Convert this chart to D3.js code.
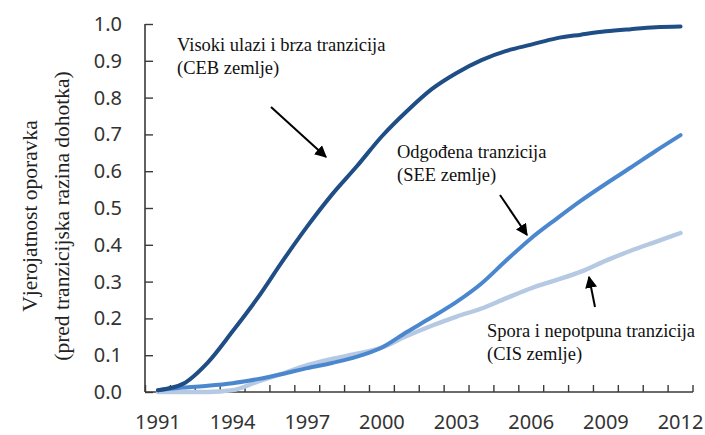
<!DOCTYPE html>
<html>
<head>
<meta charset="utf-8">
<script src="https://cdn.jsdelivr.net/npm/d3@7"></script>
<style>
  body { margin: 0; background: #fff; }
  svg { display: block; }
</style>
</head>
<body>
<div id="chart"></div>
<script>
// data
const years = d3.range(1991, 2013);
const yearLabels = [1991, 1994, 1997, 2000, 2003, 2006, 2009, 2012];
const yTicks = [0, 0.1, 0.2, 0.3, 0.4, 0.5, 0.6, 0.7, 0.8, 0.9, 1.0];

const ceb = [0.005, 0.022, 0.08, 0.165, 0.255, 0.355, 0.45, 0.537, 0.614, 0.695,
  0.763, 0.823, 0.867, 0.902, 0.927, 0.944, 0.961, 0.971, 0.98, 0.986, 0.991, 0.993];
const see = [0.005, 0.012, 0.017, 0.024, 0.035, 0.049, 0.065, 0.079, 0.096, 0.121,
  0.163, 0.203, 0.245, 0.295, 0.358, 0.418, 0.47, 0.52, 0.566, 0.61, 0.655, 0.698];
const cis = [0.0, 0.0, 0.0, 0.005, 0.028, 0.05, 0.073, 0.09, 0.104, 0.121,
  0.152, 0.18, 0.205, 0.227, 0.255, 0.282, 0.304, 0.327, 0.357, 0.384, 0.408, 0.432];

const series = [
  {name: "CIS", values: cis, color: "#b5c9e3", width: 4.4},
  {name: "SEE", values: see, color: "#4b87cf", width: 4},
  {name: "CEB", values: ceb, color: "#1f4d85", width: 4}
];

const notes = [
  {lines: ["Visoki ulazi i brza tranzicija", "(CEB zemlje)"], x: 177, y: 51},
  {lines: ["Odgođena tranzicija", "(SEE zemlje)"], x: 397, y: 158},
  {lines: ["Spora i nepotpuna tranzicija", "(CIS zemlje)"], x: 487, y: 337}
];
const arrows = [
  {from: [271, 107], to: [326, 157]},
  {from: [500, 195], to: [527, 235]},
  {from: [595, 307], to: [589, 277]}
];

const width = 705, height = 435;
const margin = {top: 24, right: 12, bottom: 43, left: 145};

const svg = d3.select("#chart").append("svg")
  .attr("width", width)
  .attr("height", height);

const x = d3.scaleBand()
  .domain(years)
  .range([margin.left + 0.5, 693]);

const y = d3.scaleLinear()
  .domain([0, 1])
  .range([height - margin.bottom, margin.top]);

const xc = d => x(d) + x.bandwidth() / 2;

// y axis, ticks pointing inward
const yAxis = svg.append("g")
  .attr("transform", `translate(${margin.left},0)`)
  .call(d3.axisRight(y).tickValues(yTicks).tickFormat(d3.format(".1f")).tickSizeOuter(0).tickSize(8));
yAxis.select(".domain").attr("stroke", "#3a3a3a").attr("stroke-width", 1.6)
  .attr("d", `M0,${y(1)}V${y(0)}`);
yAxis.selectAll(".tick line").attr("stroke", "#3a3a3a").attr("stroke-width", 1.4);
yAxis.selectAll(".tick text")
  .attr("x", -23)
  .attr("text-anchor", "end")
  .attr("fill", "#333")
  .style("font", "20px 'Noto Sans', sans-serif");

// x axis, ticks between years
const tickPos = years.map(d => x(d)).concat([x.range()[1]]);
const xg = svg.append("g");
xg.append("line")
  .attr("x1", margin.left).attr("x2", x.range()[1])
  .attr("y1", y(0)).attr("y2", y(0))
  .attr("stroke", "#3a3a3a").attr("stroke-width", 1.6);
xg.selectAll("line.tk").data(tickPos).join("line")
  .attr("class", "tk")
  .attr("x1", d => d).attr("x2", d => d)
  .attr("y1", y(0)).attr("y2", y(0) - 7)
  .attr("stroke", "#3a3a3a").attr("stroke-width", 1.4);
xg.selectAll("text").data(yearLabels).join("text")
  .attr("x", d => xc(d))
  .attr("y", 429)
  .attr("text-anchor", "middle")
  .attr("fill", "#333")
  .style("font", "20px 'Noto Sans', sans-serif")
  .text(d => d);

// axis title
const title = svg.append("text")
  .attr("transform", `translate(0,216) rotate(-90)`)
  .attr("text-anchor", "middle")
  .attr("fill", "#222")
  .style("font", "21.5px 'Liberation Serif', 'Times New Roman', serif");
title.append("tspan").attr("x", 0).attr("y", 37).text("Vjerojatnost oporavka");
title.append("tspan").attr("x", 0).attr("y", 69).text("(pred tranzicijska razina dohotka)");

// lines
const line = d3.line()
  .x((d, i) => xc(years[i]))
  .y(d => y(d))
  .curve(d3.curveMonotoneX);

svg.append("g").selectAll("path").data(series).join("path")
  .attr("fill", "none")
  .attr("stroke", d => d.color)
  .attr("stroke-width", d => d.width)
  .attr("stroke-linecap", "round")
  .attr("stroke-linejoin", "round")
  .attr("d", d => line(d.values));

// arrows
svg.append("defs").append("marker")
  .attr("id", "head")
  .attr("viewBox", "0 0 10 10")
  .attr("refX", 9).attr("refY", 5)
  .attr("markerWidth", 6).attr("markerHeight", 6)
  .attr("markerUnits", "strokeWidth")
  .attr("orient", "auto")
  .append("path")
  .attr("d", "M0,0L10,5L0,10z")
  .attr("fill", "#000");

svg.append("g").selectAll("line").data(arrows).join("line")
  .attr("x1", d => d.from[0]).attr("y1", d => d.from[1])
  .attr("x2", d => d.to[0]).attr("y2", d => d.to[1])
  .attr("stroke", "#000")
  .attr("stroke-width", 2)
  .attr("marker-end", "url(#head)");

// annotations
const ng = svg.append("g")
  .style("font", "18.5px 'Liberation Serif', 'Times New Roman', serif")
  .attr("fill", "#111");
notes.forEach(n => {
  const t = ng.append("text").attr("x", n.x).attr("y", n.y);
  n.lines.forEach((s, i) => t.append("tspan").attr("x", n.x).attr("dy", i ? 23 : 0).text(s));
});
</script>
</body>
</html>
